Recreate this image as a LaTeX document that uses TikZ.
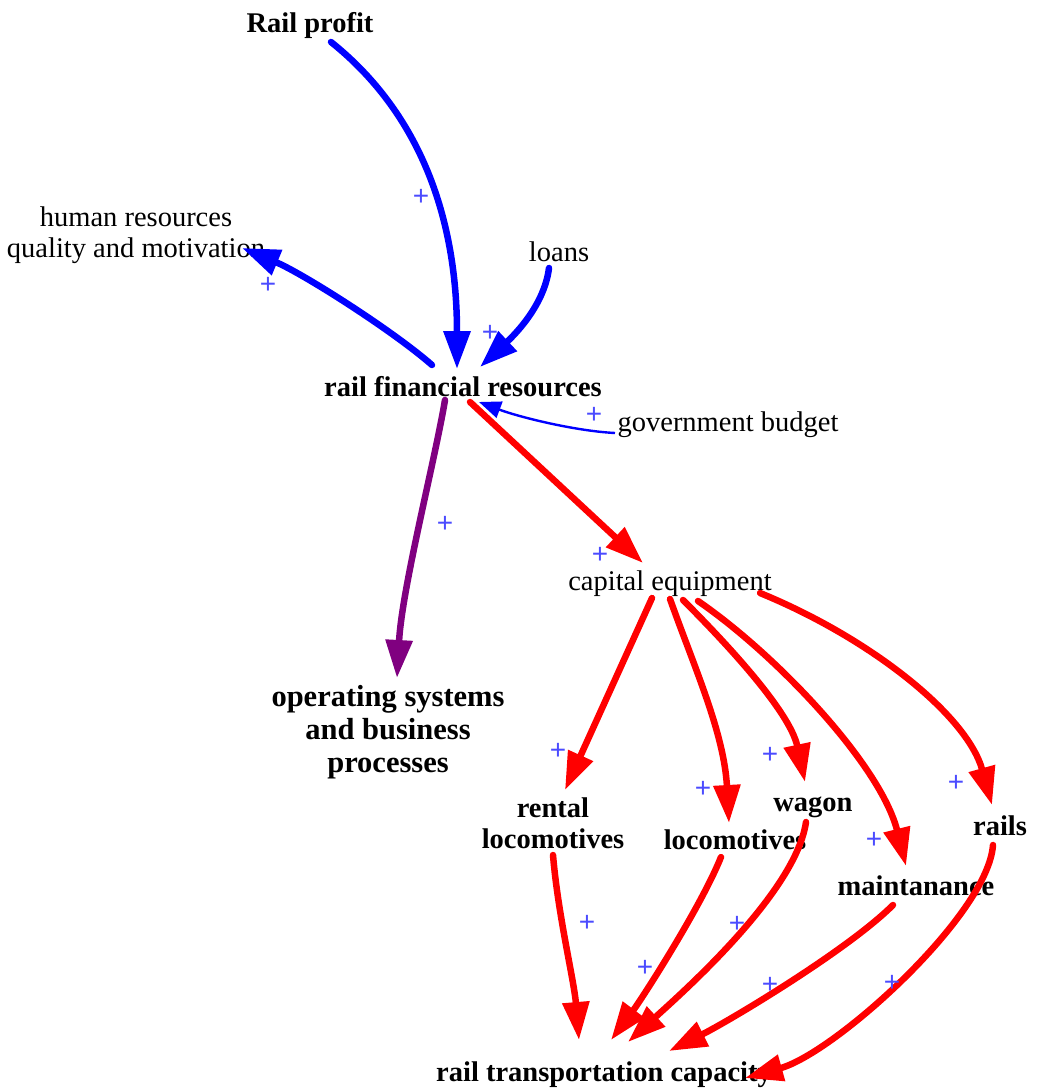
\documentclass[tikz,border=0pt]{standalone}
\usepackage{fontspec}
\setmainfont{Liberation Serif}
\newfontfamily\polfont{Liberation Sans}
\usetikzlibrary{arrows.meta}
\definecolor{cldblue}{RGB}{0,0,255}
\definecolor{cldred}{RGB}{255,0,0}
\definecolor{cldpurple}{RGB}{128,0,128}
\definecolor{polarity}{RGB}{75,75,255}

\begin{document}
\begin{tikzpicture}[x=1pt,y=-1pt,
  var/.style={inner sep=0pt, font=\fontsize{28.5}{31}\selectfont, align=center},
  bvar/.style={var, font=\fontsize{28.5}{31}\selectfont\bfseries},
  link/.style={line width=6.5pt, line cap=round, -{Triangle[length=38pt,width=26pt]}},
  thinlink/.style={line width=2.4pt, -{Triangle[length=22pt,width=17pt]}},
  pol/.style={inner sep=0pt, text=polarity, font=\polfont\fontsize{28}{28}\selectfont},
]
\useasboundingbox (0,0) rectangle (1038,1090);

% variables
\node[bvar, anchor=base] (rp) at (310,32) {Rail profit};
\node[var] (hr) at (136,235) {human resources\\quality and motivation};
\node[var, anchor=base] (loans) at (559,261) {loans};
\node[bvar, anchor=base] (rf) at (463,396) {rail financial resources};
\node[var, anchor=base] (gb) at (728,431) {government budget};
\node[var, anchor=base] (ce) at (670,590) {capital equipment};
\node[bvar, font=\fontsize{30.5}{33}\selectfont\bfseries] (os) at (388,732) {operating systems\\and business\\processes};
\node[bvar] (rl) at (553,823) {rental\\locomotives};
\node[bvar, anchor=base] (lo) at (735,849) {locomotives};
\node[bvar, anchor=base] (wa) at (813,811) {wagon};
\node[bvar, anchor=base] (ra) at (1000,835) {rails};
\node[bvar, anchor=base] (ma) at (916,895) {maintanance};
\node[bvar, anchor=base] (rtc) at (604,1081) {rail transportation capacity};

% financing loop (blue)
\draw[link, cldblue] ([shift={(21,10)}]rp.base) .. controls +(90,72) and +(0,-150) .. ([shift={(-6,-27)}]rf.base);
\draw[link, cldblue] ([shift={(-31,-31)}]rf.base) .. controls +(-40,-35) and +(60,25) .. ([shift={(106,13)}]hr.center);
\draw[link, cldblue] ([shift={(-10,7)}]loans.base) .. controls +(-5,40) and +(30,-28) .. ([shift={(17,-29)}]rf.base);
\draw[thinlink, cldblue] ([shift={(-113,2)}]gb.base) .. controls +(-40,-2) and +(40,15) .. ([shift={(16,6)}]rf.base);

% operating systems (purple)
\draw[link, cldpurple] ([shift={(-18,4)}]rf.base) .. controls +(-10,60) and +(5,-90) .. ([shift={(9,-54)}]os.center);

% capital equipment chain (red)
\draw[link, cldred] ([shift={(7,6)}]rf.base) -- ([shift={(-27,-27)}]ce.base);
\draw[link, cldred] ([shift={(-18,8)}]ce.base) -- ([shift={(12,-33)}]rl.center);
\draw[link, cldred] ([shift={(0,9)}]ce.base) .. controls +(25,70) and +(-5,-90) .. ([shift={(-6,-26)}]lo.base);
\draw[link, cldred] ([shift={(13,10)}]ce.base) .. controls +(45,45) and +(-15,-70) .. ([shift={(-8,-29)}]wa.base);
\draw[link, cldred] ([shift={(28,11)}]ce.base) .. controls +(80,55) and +(-25,-100) .. ([shift={(-10,-29)}]ma.base);
\draw[link, cldred] ([shift={(90,3)}]ce.base) .. controls +(110,45) and +(-25,-90) .. ([shift={(-8,-30)}]ra.base);

\draw[link, cldred] ([shift={(0,32)}]rl.center) .. controls +(5,60) and +(-5,-60) .. ([shift={(-25,-41)}]rtc.base);
\draw[link, cldred] ([shift={(-14,8)}]lo.base) .. controls +(-20,50) and +(30,-40) .. ([shift={(7,-41)}]rtc.base);
\draw[link, cldred] ([shift={(-7,11)}]wa.base) .. controls +(-10,70) and +(55,-50) .. ([shift={(24,-39)}]rtc.base);
\draw[link, cldred] ([shift={(-23,10)}]ma.base) .. controls +(-45,45) and +(60,-30) .. ([shift={(65,-30)}]rtc.base);
\draw[link, cldred] ([shift={(-7,10)}]ra.base) .. controls +(-5,70) and +(90,-25) .. ([shift={(141,-3)}]rtc.base);

% link polarities
\node[pol] (p1) at (421,197) {+};
\node[pol] (p2) at (268,285) {+};
\node[pol] (p3) at (490,333) {+};
\node[pol] (p4) at (594,415) {+};
\node[pol] (p5) at (445,524) {+};
\node[pol] (p6) at (600,555) {+};
\node[pol] (p7) at (558,751) {+};
\node[pol] (p8) at (703,789) {+};
\node[pol] (p9) at (770,755) {+};
\node[pol] (p10) at (874,840) {+};
\node[pol] (p11) at (956,783) {+};
\node[pol] (p12) at (587,923) {+};
\node[pol] (p13) at (645,968) {+};
\node[pol] (p14) at (737,924) {+};
\node[pol] (p15) at (770,985) {+};
\node[pol] (p16) at (892,983) {+};
\end{tikzpicture}
\end{document}
